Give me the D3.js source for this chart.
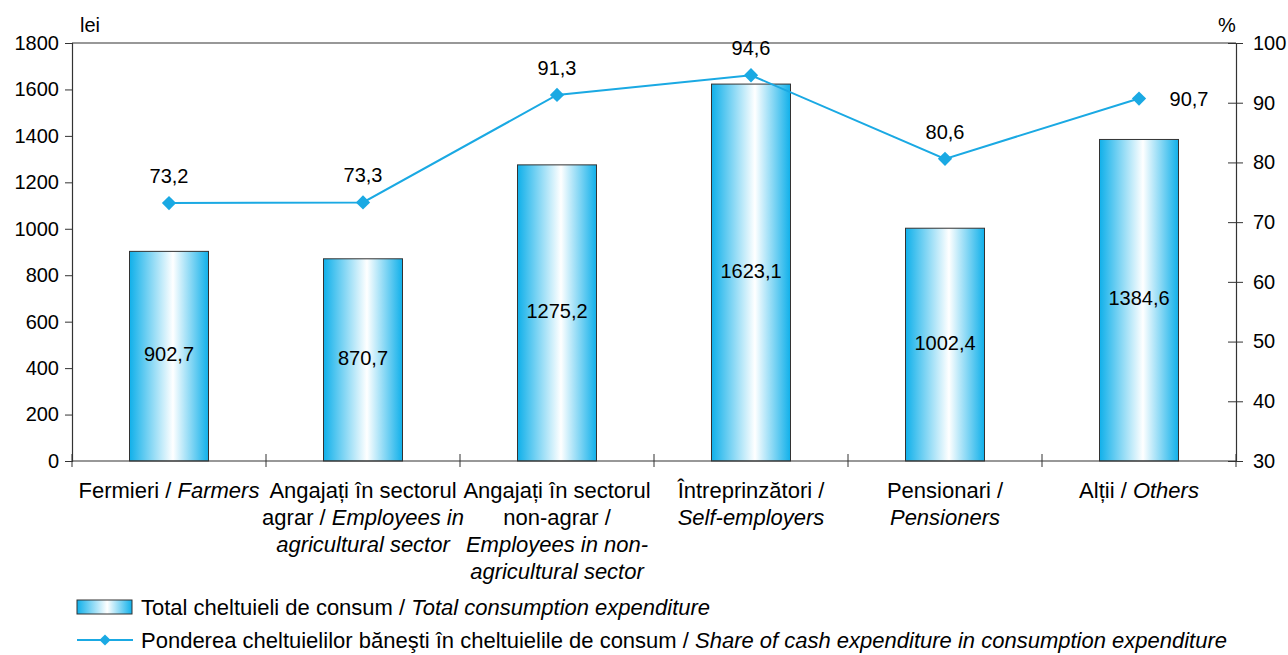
<!DOCTYPE html>
<html><head><meta charset="utf-8">
<script src="https://cdn.jsdelivr.net/npm/d3@7"></script>
<style>body{margin:0;background:#fff}svg{display:block;font-family:"Liberation Sans",Arial,sans-serif}</style>
</head><body><svg id="c" width="1288" height="655"></svg>
<script>
const categories = [
  [["Fermieri / ", false], ["Farmers", true]],
  [["Angajați în sectorul", false], ["|", false], ["agrar / ", false], ["Employees in", true], ["|", false], ["agricultural sector", true]],
  [["Angajați în sectorul", false], ["|", false], ["non-agrar /", false], ["|", false], ["Employees in non-", true], ["|", false], ["agricultural sector", true]],
  [["Întreprinzători /", false], ["|", false], ["Self-employers", true]],
  [["Pensionari /", false], ["|", false], ["Pensioners", true]],
  [["Alții / ", false], ["Others", true]]
];
const expenditure = [902.7, 870.7, 1275.2, 1623.1, 1002.4, 1384.6];
const cashShare = [73.2, 73.3, 91.3, 94.6, 80.6, 90.7];
const leftTicks = [0, 200, 400, 600, 800, 1000, 1200, 1400, 1600, 1800];
const rightTicks = [30, 40, 50, 60, 70, 80, 90, 100];
const legendBar = [["Total cheltuieli de consum / ", false], ["Total consumption expenditure", true]];
const legendLine = [["Ponderea cheltuielilor băneşti în cheltuielile de consum / ", false], ["Share of cash expenditure in consumption expenditure", true]];

const svg = d3.select("#c");
const L = 72, R = 1236, T = 43, B = 461;
const NUM = 20, TXT = 22;
const x = d3.scaleBand().domain(d3.range(categories.length)).range([L, R]);
const yL = d3.scaleLinear().domain([0, 1800]).range([B, T]);
const yR = d3.scaleLinear().domain([30, 100]).range([B, T]);
const fmt = v => d3.format(".1f")(v).replace(".", ",");
const blue = "#1aa9e3";

const defs = svg.append("defs");
const g = defs.append("linearGradient").attr("id", "bg").attr("x1", "0").attr("x2", "1").attr("y1", "0").attr("y2", "0");
g.append("stop").attr("offset", "0").attr("stop-color", "#10b0ea");
g.append("stop").attr("offset", "0.55").attr("stop-color", "#ffffff");
g.append("stop").attr("offset", "1").attr("stop-color", "#10b0ea");

const axisColor = "#333";
svg.append("line").attr("x1", L).attr("x2", R).attr("y1", T).attr("y2", T).attr("stroke", axisColor).attr("stroke-width", 1.2);

// bars
const bw = 79;
svg.selectAll("rect.bar").data(expenditure).join("rect").attr("class", "bar")
  .attr("x", (d, i) => x(i) + x.bandwidth() / 2 - bw / 2).attr("width", bw)
  .attr("y", d => yL(d)).attr("height", d => B - yL(d))
  .attr("fill", "url(#bg)").attr("stroke", "#333").attr("stroke-width", 1);

svg.selectAll("text.bl").data(expenditure).join("text").attr("class", "bl")
  .attr("x", (d, i) => x(i) + x.bandwidth() / 2).attr("y", d => (yL(d) + B) / 2 + 5)
  .attr("text-anchor", "middle").attr("font-size", NUM).attr("fill", "#000").text(fmt);

// axes
const la = d3.axisLeft(yL).tickValues(leftTicks).tickSize(7).tickPadding(6).tickFormat(d3.format("d"));
const lg = svg.append("g").attr("transform", `translate(${L},0)`).call(la);
const ra = d3.axisRight(yR).tickValues(rightTicks).tickSize(7).tickPadding(10).tickFormat(d3.format("d"));
const rg = svg.append("g").attr("transform", `translate(${R},0)`).call(ra);
rg.selectAll(".tick line").attr("x1", -8).attr("x2", 7);
const ba = d3.axisBottom(x).tickValues([]).tickSize(0);
const bg = svg.append("g").attr("transform", `translate(0,${B})`).call(ba);
const edges = d3.range(categories.length + 1).map(i => i < categories.length ? x(i) : x(i - 1) + x.bandwidth());
bg.selectAll("line.xt").data(edges).join("line").attr("class", "xt")
  .attr("x1", d => d).attr("x2", d => d).attr("y1", -7).attr("y2", 6).attr("stroke", axisColor);
[lg, rg, bg].forEach(a => {
  a.selectAll(".domain").attr("stroke", axisColor).attr("stroke-width", 1.2);
  a.selectAll(".tick line").attr("stroke", axisColor);
  a.selectAll("text").attr("font-size", NUM).attr("fill", "#000").style("font-family", "Liberation Sans, Arial, sans-serif");
});
bg.select(".domain").attr("d", `M${L},0H${R}`);

svg.append("text").attr("x", 80).attr("y", 32).attr("font-size", NUM).text("lei");
svg.append("text").attr("x", 1227).attr("y", 32).attr("text-anchor", "middle").attr("font-size", NUM).text("%");

// category labels
categories.forEach((parts, i) => {
  const lines = [[]];
  parts.forEach(p => { if (p[0] === "|") lines.push([]); else lines[lines.length - 1].push(p); });
  lines.forEach((ln, j) => {
    const t = svg.append("text").attr("x", x(i) + x.bandwidth() / 2).attr("y", 498 + j * 27)
      .attr("text-anchor", "middle").attr("font-size", TXT).attr("fill", "#000");
    ln.forEach(p => t.append("tspan").attr("font-style", p[1] ? "italic" : "normal").text(p[0]));
  });
});

// line
const cx = i => x(i) + x.bandwidth() / 2;
svg.append("path").datum(cashShare)
  .attr("d", d3.line().x((d, i) => cx(i)).y(d => yR(d)))
  .attr("fill", "none").attr("stroke", blue).attr("stroke-width", 2);
const diamond = d3.symbol().type(d3.symbolDiamond2).size(130);
svg.selectAll("path.mk").data(cashShare).join("path").attr("class", "mk")
  .attr("d", diamond).attr("transform", (d, i) => `translate(${cx(i)},${yR(d)})`)
  .attr("fill", blue);
svg.selectAll("text.ll").data(cashShare).join("text").attr("class", "ll")
  .attr("x", (d, i) => i === 5 ? cx(i) + 50 : cx(i)).attr("y", (d, i) => i === 5 ? yR(d) + 7 : yR(d) - 20)
  .attr("text-anchor", "middle").attr("font-size", NUM).text(fmt);

// legend
svg.append("rect").attr("x", 77).attr("y", 600).attr("width", 55).attr("height", 14)
  .attr("fill", "url(#bg)").attr("stroke", "#333");
const t1 = svg.append("text").attr("x", 141).attr("y", 615).attr("font-size", TXT);
legendBar.forEach(p => t1.append("tspan").attr("font-style", p[1] ? "italic" : "normal").text(p[0]));
svg.append("line").attr("x1", 77).attr("x2", 133).attr("y1", 640).attr("y2", 640).attr("stroke", blue).attr("stroke-width", 2);
svg.append("path").attr("d", d3.symbol().type(d3.symbolDiamond2).size(80)).attr("transform", "translate(105,640)").attr("fill", blue);
const t2 = svg.append("text").attr("x", 141).attr("y", 648).attr("font-size", TXT);
legendLine.forEach(p => t2.append("tspan").attr("font-style", p[1] ? "italic" : "normal").text(p[0]));
</script></body></html>
